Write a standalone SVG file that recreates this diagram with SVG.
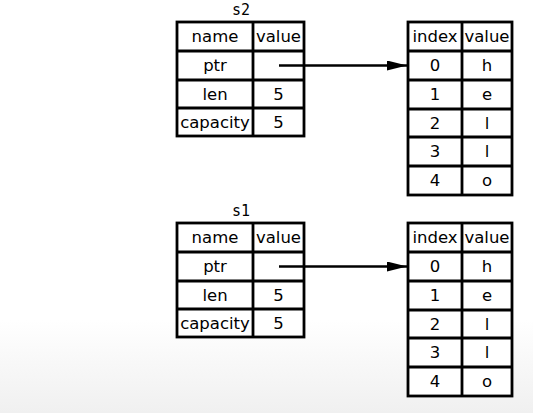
<svg xmlns="http://www.w3.org/2000/svg" width="533" height="413" viewBox="0 0 533 413">
  <defs>
    <linearGradient id="bg" x1="0" y1="0" x2="0" y2="1">
      <stop offset="0" stop-color="#ffffff"/>
      <stop offset="1" stop-color="#f0f0f0"/>
    </linearGradient>
    <marker id="arrow" markerWidth="20" markerHeight="10" refX="20" refY="5" orient="auto" markerUnits="userSpaceOnUse">
      <path d="M0,0 L20,5 L0,10 Z" fill="#000"/>
    </marker>
  </defs>
  <style>
    .cell { fill: #fff; stroke: #000; stroke-width: 2.8; }
    .grid { stroke: #000; stroke-width: 2.8; fill: none; }
    .t { font-family: "DejaVu Sans", "Liberation Sans", sans-serif; font-size: 16.5px; text-anchor: middle; fill: #000; }
    .lbl { font-family: "DejaVu Sans Mono", "Liberation Mono", monospace; font-size: 15px; text-anchor: middle; fill: #000; }
    .conn { stroke: #000; stroke-width: 2.6; fill: none; }
  </style>
  <rect x="0" y="0" width="533" height="413" fill="#fff"/>
  <rect x="0" y="320" width="533" height="93" fill="url(#bg)"/>

  <g id="s2">
    <text class="lbl" x="241" y="15">s2</text>
    <rect class="cell" x="177" y="22" width="127" height="114"/>
    <path class="grid" d="M253,22 V136 M177,51 H304 M177,80 H304 M177,108 H304"/>
    <text class="t" x="215" y="42">name</text>
    <text class="t" x="278.5" y="42">value</text>
    <text class="t" x="215" y="71">ptr</text>
    <text class="t" x="215" y="100">len</text>
    <text class="t" x="278.5" y="100">5</text>
    <text class="t" x="215" y="128">capacity</text>
    <text class="t" x="278.5" y="128">5</text>
  </g>

  <g id="heap2">
    <rect class="cell" x="408" y="22" width="104" height="173"/>
    <path class="grid" d="M462,22 V195 M408,51 H512 M408,80 H512 M408,109 H512 M408,137 H512 M408,166 H512"/>
    <text class="t" x="435" y="42">index</text>
    <text class="t" x="487" y="42">value</text>
    <text class="t" x="435" y="71">0</text>
    <text class="t" x="487" y="71">h</text>
    <text class="t" x="435" y="100">1</text>
    <text class="t" x="487" y="100">e</text>
    <text class="t" x="435" y="129">2</text>
    <text class="t" x="487" y="129">l</text>
    <text class="t" x="435" y="157">3</text>
    <text class="t" x="487" y="157">l</text>
    <text class="t" x="435" y="186">4</text>
    <text class="t" x="487" y="186">o</text>
  </g>

  <g id="s1">
    <text class="lbl" x="241" y="216">s1</text>
    <rect class="cell" x="177" y="223" width="127" height="114"/>
    <path class="grid" d="M253,223 V337 M177,252 H304 M177,281 H304 M177,309 H304"/>
    <text class="t" x="215" y="243">name</text>
    <text class="t" x="278.5" y="243">value</text>
    <text class="t" x="215" y="272">ptr</text>
    <text class="t" x="215" y="301">len</text>
    <text class="t" x="278.5" y="301">5</text>
    <text class="t" x="215" y="329">capacity</text>
    <text class="t" x="278.5" y="329">5</text>
  </g>

  <g id="heap1">
    <rect class="cell" x="408" y="223" width="104" height="173"/>
    <path class="grid" d="M462,223 V396 M408,252 H512 M408,281 H512 M408,310 H512 M408,338 H512 M408,367 H512"/>
    <text class="t" x="435" y="243">index</text>
    <text class="t" x="487" y="243">value</text>
    <text class="t" x="435" y="272">0</text>
    <text class="t" x="487" y="272">h</text>
    <text class="t" x="435" y="301">1</text>
    <text class="t" x="487" y="301">e</text>
    <text class="t" x="435" y="330">2</text>
    <text class="t" x="487" y="330">l</text>
    <text class="t" x="435" y="358">3</text>
    <text class="t" x="487" y="358">l</text>
    <text class="t" x="435" y="387">4</text>
    <text class="t" x="487" y="387">o</text>
  </g>

  <g id="connectors">
    <line class="conn" x1="279" y1="65.5" x2="407" y2="65.5" marker-end="url(#arrow)"/>
    <line class="conn" x1="279" y1="266.5" x2="407" y2="266.5" marker-end="url(#arrow)"/>
  </g>
</svg>
